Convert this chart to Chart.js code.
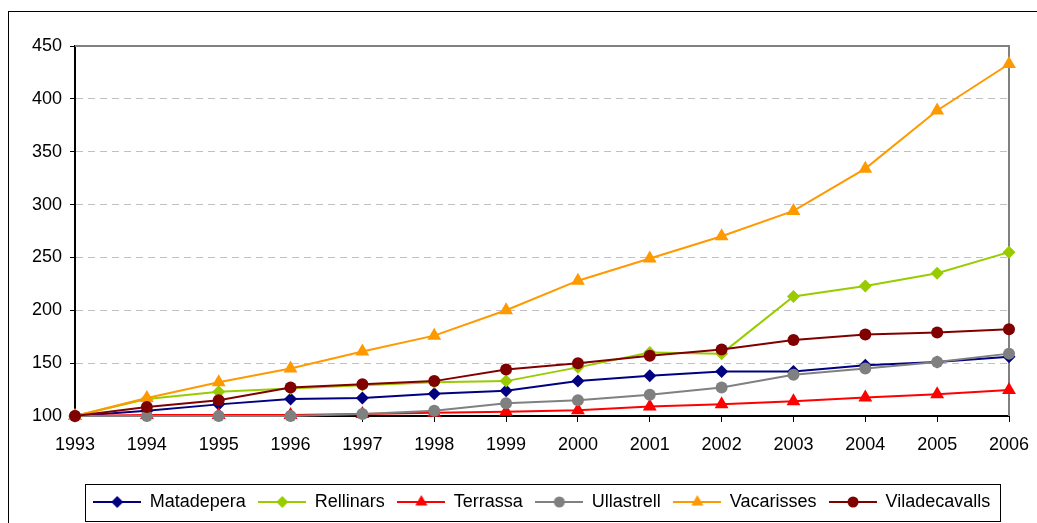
<!DOCTYPE html>
<html>
<head>
<meta charset="utf-8">
<script src="https://cdn.jsdelivr.net/npm/chart.js@4/dist/chart.umd.min.js"></script>
<style>
  html, body { margin: 0; padding: 0; background: #fff; }
  #wrap { width: 1037px; height: 523px; position: relative; }
</style>
</head>
<body>
<div id="wrap"><canvas id="c" width="1037" height="523"></canvas></div>
<script>
const years = ['1993','1994','1995','1996','1997','1998','1999','2000','2001','2002','2003','2004','2005','2006'];
const matadepera    = [100, 105, 111, 116, 117, 121, 124, 133, 138, 142, 142, 148, 151, 156];
const rellinars     = [100, 116, 123, 126, 129, 132, 133, 146, 160, 159, 213, 223, 235, 255];
const terrassa      = [100, 101, 101, 101, 102, 103, 104, 105.5, 109, 111, 114, 117.5, 120.5, 124.5];
const ullastrell    = [100, 100, 100, 100, 102, 105, 112, 115, 120, 127, 139, 145, 151, 159];
const vacarisses    = [100, 117, 132, 145, 161, 176, 200, 228, 249, 270, 294, 334, 389, 433];
const viladecavalls = [100, 108.5, 115, 127, 130, 133, 144, 150, 157, 163, 172, 177, 179, 182];
const seriesNames = ['Matadepera','Rellinars','Terrassa','Ullastrell','Vacarisses','Viladecavalls'];
const yTicks = [100, 150, 200, 250, 300, 350, 400, 450];

const FONT = "'Liberation Sans', Arial, sans-serif";
const styles = [
  {color:'#000080', point:'rectRot', r:6.5},
  {color:'#99CC00', point:'rectRot', r:6.5},
  {color:'#FF0000', point:'triangle', r:8},
  {color:'#808080', point:'circle', r:6},
  {color:'#FF9900', point:'triangle', r:8},
  {color:'#800000', point:'circle', r:6}
];
const seriesData = [matadepera, rellinars, terrassa, ullastrell, vacarisses, viladecavalls];

function makeIcon(st) {
  const cv = document.createElement('canvas');
  cv.width = 48; cv.height = 16;
  const g = cv.getContext('2d');
  g.strokeStyle = st.color; g.lineWidth = 2;
  g.beginPath(); g.moveTo(0, 8); g.lineTo(48, 8); g.stroke();
  g.fillStyle = st.color;
  g.beginPath();
  const cx = 24, cy = 8;
  if (st.point === 'rectRot') {
    const r = 6;
    g.moveTo(cx - r, cy); g.lineTo(cx, cy - r); g.lineTo(cx + r, cy); g.lineTo(cx, cy + r);
  } else if (st.point === 'triangle') {
    const r = 7;
    g.moveTo(cx, cy - r); g.lineTo(cx + r * 0.866, cy + r * 0.5); g.lineTo(cx - r * 0.866, cy + r * 0.5);
  } else {
    g.arc(cx, cy, 5.5, 0, Math.PI * 2);
  }
  g.closePath(); g.fill();
  return cv;
}
const icons = styles.map(makeIcon);

const frame = {
  id: 'frame',
  beforeDraw(chart) {
    const ctx = chart.ctx;
    ctx.save();
    ctx.strokeStyle = '#000'; ctx.lineWidth = 1;
    ctx.strokeRect(8.5, 11.5, 1100, 600);
    ctx.restore();
  },
  beforeDatasetsDraw(chart) {
    const a = chart.chartArea, ctx = chart.ctx;
    ctx.save();
    ctx.strokeStyle = '#808080'; ctx.lineWidth = 2;
    ctx.beginPath();
    ctx.moveTo(a.left, a.top); ctx.lineTo(a.right, a.top); ctx.lineTo(a.right, a.bottom);
    ctx.stroke();
    ctx.restore();
  },
  afterDraw(chart) {
    const lg = chart.legend;
    if (!lg || !lg.legendHitBoxes || !lg.legendHitBoxes.length) return;
    const hb = lg.legendHitBoxes;
    let l = Infinity, r = -Infinity, cy = 0;
    hb.forEach(h => { l = Math.min(l, h.left); r = Math.max(r, h.left + h.width); cy = h.top + h.height / 2; });
    const ctx = chart.ctx;
    ctx.save();
    ctx.strokeStyle = '#000'; ctx.lineWidth = 1;
    ctx.strokeRect(Math.round(l - 9) + 0.5, Math.round(cy - 18) + 0.5, Math.round(r - l + 18), 37);
    ctx.restore();
  }
};

const datasets = seriesNames.map((name, i) => ({
  label: name,
  data: seriesData[i],
  borderColor: styles[i].color,
  backgroundColor: styles[i].color,
  borderWidth: 2,
  pointStyle: styles[i].point,
  pointRadius: styles[i].r,
  pointHoverRadius: styles[i].r,
  pointBorderWidth: 0,
  pointBackgroundColor: styles[i].color,
  tension: 0,
  clip: false,
  order: 6 - i
}));

new Chart(document.getElementById('c'), {
  type: 'line',
  data: { labels: years, datasets },
  options: {
    responsive: false,
    animation: false,
    layout: { padding: { left: 0, top: 46, right: 28, bottom: 2 } },
    plugins: {
      tooltip: { enabled: false },
      legend: {
        position: 'bottom',
        fullSize: false,
        labels: {
          usePointStyle: true,
          pointStyleWidth: 47,
          padding: 13,
          color: '#000',
          font: { family: FONT, size: 18 },
          sort: (a, b) => a.datasetIndex - b.datasetIndex,
          generateLabels(chart) {
            const items = Chart.defaults.plugins.legend.labels.generateLabels(chart);
            items.forEach(it => { it.pointStyle = icons[it.datasetIndex]; });
            return items;
          }
        }
      }
    },
    scales: {
      x: {
        type: 'category',
        offset: false,
        grid: { drawOnChartArea: false, drawTicks: true, tickLength: 6, tickColor: '#000' },
        border: { display: true, color: '#000', width: 2 },
        ticks: { color: '#000', font: { family: FONT, size: 18 }, padding: 12, maxRotation: 0, autoSkip: false },
        afterFit(s) { s.height = 64; s.paddingLeft = 0; s.paddingRight = 0; }
      },
      y: {
        min: 100, max: 450,
        afterBuildTicks(s) { s.ticks = yTicks.map(v => ({ value: v })); },
        grid: {
          color: ctx => (ctx.tick && (ctx.tick.value === 450 || ctx.tick.value === 100)) ? 'rgba(0,0,0,0)' : '#C0C0C0',
          lineWidth: 1,
          drawTicks: true, tickLength: 5, tickColor: '#000'
        },
        border: { display: true, color: '#000', width: 2, dash: [7, 5] },
        ticks: { color: '#000', font: { family: FONT, size: 18 }, padding: 8 },
        afterFit(s) { s.width = 75; s.paddingTop = 0; s.paddingBottom = 0; }
      }
    }
  },
  plugins: [frame]
});
</script>
</body>
</html>
